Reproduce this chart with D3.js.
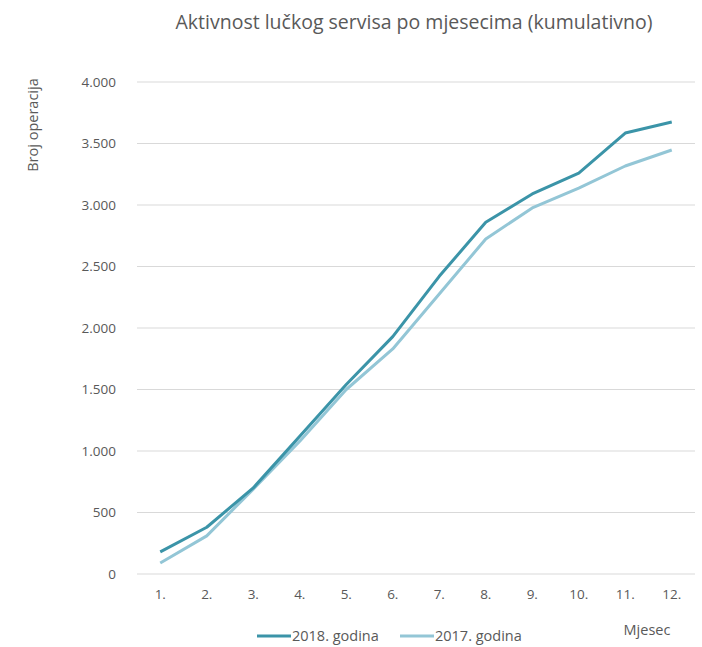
<!DOCTYPE html>
<html>
<head>
<meta charset="utf-8">
<script src="https://cdn.jsdelivr.net/npm/d3@7"></script>
<style>
  body { margin: 0; background: #fff; }
  text { font-family: "Open Sans", sans-serif; fill: #595959; }
</style>
</head>
<body>
<div id="chart"></div>
<script>
// Data
const months = ["1.", "2.", "3.", "4.", "5.", "6.", "7.", "8.", "9.", "10.", "11.", "12."];
const y2018 = [180, 380, 700, 1120, 1540, 1930, 2420, 2860, 3090, 3260, 3585, 3675];
const y2017 = [90, 310, 690, 1080, 1500, 1830, 2276, 2724, 2976, 3138, 3317, 3447];
const yTicks = [0, 500, 1000, 1500, 2000, 2500, 3000, 3500, 4000];

let width = 702, height = 647;
let margin = {top: 82, bottom: 73, left: 137, right: 7};

let svg = d3.select("#chart")
            .append("svg")
            .attr("width", width)
            .attr("height", height);

let xscale = d3.scaleBand()
               .domain(months)
               .range([margin.left, width - margin.right]);

let yscale = d3.scaleLinear()
               .domain([0, 4000])
               .range([height - margin.bottom, margin.top]);

// gridlines
svg.append("g")
   .selectAll("line")
   .data(yTicks)
   .enter()
   .append("line")
   .attr("x1", margin.left)
   .attr("x2", width - margin.right)
   .attr("y1", d => yscale(d))
   .attr("y2", d => yscale(d))
   .attr("stroke", "#d9d9d9")
   .attr("stroke-width", 1);

// y axis labels
const fmt = d => d3.format(",")(d).replace(/,/g, ".");
let yaxis = svg.append("g")
   .attr("transform", `translate(${margin.left - 18},0)`)
   .call(d3.axisLeft(yscale).tickValues(yTicks).tickFormat(fmt).tickSize(0));
yaxis.select(".domain").remove();
yaxis.selectAll("text").style("font-size", "13.5px").attr("fill", "#595959");

// x axis labels
let xaxis = svg.append("g")
   .attr("transform", `translate(0,${height - margin.bottom + 12})`)
   .call(d3.axisBottom(xscale).tickSize(0));
xaxis.select(".domain").remove();
xaxis.selectAll("text").style("font-size", "13.5px").attr("fill", "#595959");

// lines
let line = d3.line()
             .x((d, i) => xscale(months[i]) + xscale.bandwidth() / 2)
             .y(d => yscale(d));

const series = [
  {name: "2017. godina", values: y2017, color: "#93c6d6"},
  {name: "2018. godina", values: y2018, color: "#3b94a8"}
];

series.forEach(s => {
  svg.append("path")
     .datum(s.values)
     .attr("d", line)
     .attr("fill", "none")
     .attr("stroke", s.color)
     .attr("stroke-width", 3)
     .attr("stroke-linejoin", "round");
});

// title
svg.append("text")
   .attr("x", 414)
   .attr("y", 29)
   .attr("text-anchor", "middle")
   .style("font-size", "19.5px")
   .text("Aktivnost lučkog servisa po mjesecima (kumulativno)");

// y axis title
svg.append("text")
   .attr("transform", "translate(38,125) rotate(-90)")
   .attr("text-anchor", "middle")
   .style("font-size", "14.5px")
   .text("Broj operacija");

// x axis title
svg.append("text")
   .attr("x", 647)
   .attr("y", 635)
   .attr("text-anchor", "middle")
   .style("font-size", "14.5px")
   .text("Mjesec");

// legend
const legendItems = [series[1], series[0]];
legendItems.forEach((s, i) => {
  let gx = 257 + i * 143;
  svg.append("line")
     .attr("x1", gx).attr("x2", gx + 34)
     .attr("y1", 636).attr("y2", 636)
     .attr("stroke", s.color)
     .attr("stroke-width", 3);
  svg.append("text")
     .attr("x", gx + 35)
     .attr("y", 641)
     .style("font-size", "14.5px")
     .text(s.name);
});
</script>
</body>
</html>
